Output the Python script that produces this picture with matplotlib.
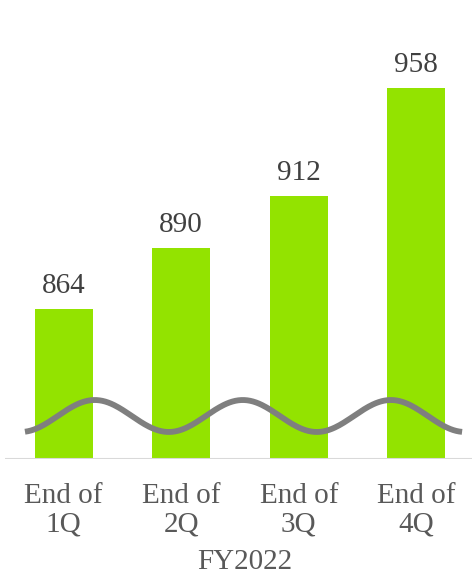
import numpy as np
import matplotlib
matplotlib.use("Agg")
from matplotlib import pyplot as plt
from matplotlib.transforms import blended_transform_factory

# data
quarters = ["End of\n1Q", "End of\n2Q", "End of\n3Q", "End of\n4Q"]
values = [864, 890, 912, 958]
period_label = "FY2022"

plt.rcParams['font.family'] = ['Liberation Serif', 'DejaVu Serif']

W, H = 472, 574
fig = plt.figure(figsize=(W / 100, H / 100), dpi=100)
# axes: px 5..472 horizontally, baseline at px 459, top at px 0
ax = fig.add_axes([5 / W, (H - 459) / H, 467 / W, 459 / H])

x = np.arange(len(values))
ax.bar(x, values, width=0.49, color='#93E300', zorder=2)
ax.set_xlim(-0.5, -0.5 + 467 / 117.5)
ax.set_ylim(800, 800 + 459 / 2.35)

for xi, v in zip(x, values):
    ax.annotate(str(v), (xi, v), xytext=(0, 11.5), textcoords='offset points',
                ha='center', va='baseline', fontsize=21, color='#404040')

# axis-break wave (decoration)
wx = np.linspace(-0.33, 3.39, 300)
wy = 818.3 + 6.8 * np.cos(2 * np.pi * (wx - 0.264) / 1.26)
ax.plot(wx, wy, color='#7f7f7f', lw=4.2, solid_capstyle='butt', zorder=3)

# baseline
ax.axhline(800, color='#d9d9d9', lw=1.5, zorder=4)

for s in ax.spines.values():
    s.set_visible(False)
ax.set_xticks([])
ax.set_yticks([])

tr = blended_transform_factory(ax.transData, fig.transFigure)
for xi, lab in zip(x, quarters):
    ax.text(xi, 1 - 510 / H, lab, transform=tr, ha='center', va='center',
            fontsize=21, color='#595959', linespacing=1.1)
fig.text(245 / W, 1 - 562 / H, period_label, ha='center', va='center',
         fontsize=21, color='#595959')

fig.savefig('out.png', dpi=100)
